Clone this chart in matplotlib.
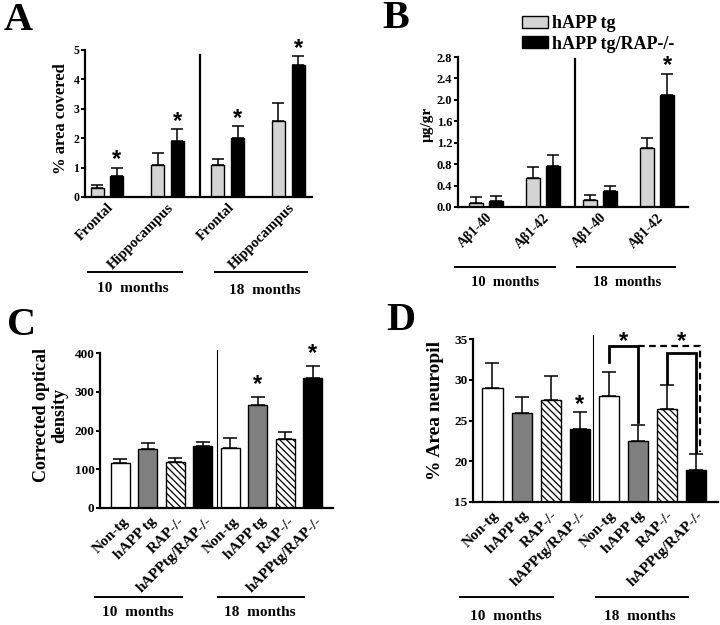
import numpy as np
import matplotlib
matplotlib.use("Agg")
import matplotlib.pyplot as plt
from matplotlib.patches import Patch
from matplotlib.lines import Line2D

plt.rcParams['font.family'] = ['Liberation Serif', 'DejaVu Serif']
plt.rcParams['font.weight'] = 'bold'
plt.rcParams['hatch.color'] = '#333333'
plt.rcParams['hatch.linewidth'] = 0.9

# ---------------- data ----------------
# Panel A: % area covered
a_groups = ["Frontal", "Hippocampus", "Frontal", "Hippocampus"]
a_happ = [0.3, 1.1, 1.1, 2.6]
a_happ_err = [0.1, 0.4, 0.2, 0.6]
a_rap = [0.7, 1.9, 2.0, 4.5]
a_rap_err = [0.3, 0.4, 0.4, 0.3]
a_star = [True, True, True, True]

# Panel B: ug/gr
b_groups = ["Aβ1-40", "Aβ1-42", "Aβ1-40", "Aβ1-42"]
b_happ = [0.08, 0.54, 0.13, 1.10]
b_happ_err = [0.10, 0.20, 0.09, 0.19]
b_rap = [0.11, 0.77, 0.29, 2.09]
b_rap_err = [0.09, 0.20, 0.10, 0.40]
b_star = [False, False, False, True]

# Panel C: corrected optical density
c_labels = ["Non-tg", "hAPP tg", "RAP-/-", "hAPPtg/RAP-/-"] * 2
c_vals = [115, 153, 119, 160, 155, 267, 177, 335]
c_err = [12, 16, 10, 11, 25, 20, 19, 32]
c_star = [False, False, False, False, False, True, False, True]

# Panel D: % area neuropil
d_labels = ["Non-tg", "hAPP tg", "RAP-/-", "hAPPtg/RAP-/-"] * 2
d_vals = [29.0, 25.9, 27.5, 24.0, 28.0, 22.5, 26.4, 18.9]
d_err = [3.0, 2.0, 3.0, 2.0, 3.0, 2.0, 3.0, 2.0]
d_star = [False, False, False, True, False, False, False, False]

legend_labels = ["hAPP tg", "hAPP tg/RAP-/-"]
month_labels = ["10  months", "18  months"]

# ---------------- style ----------------
W, H = 720, 625
LIGHT = '#d4d4d4'
MID = '#808080'
SERIF = 'Liberation Serif'

fig = plt.figure(figsize=(W / 100, H / 100), dpi=100)


def fx(px):
    return px / W


def fy(py):
    return 1 - py / H


def make_ax(l, t, r, b):
    return fig.add_axes([fx(l), fy(b), fx(r) - fx(l), fy(t) - fy(b)])


def style_ax(ax, tick_fs=8, xpad=3):
    for s in ['top', 'right']:
        ax.spines[s].set_visible(False)
    for s in ['left', 'bottom']:
        ax.spines[s].set_linewidth(1.6)
    ax.tick_params(axis='y', length=3, width=1.4, labelsize=tick_fs, pad=1)
    ax.tick_params(axis='x', length=0, pad=xpad)
    for t in ax.get_yticklabels():
        t.set_fontweight('bold')


def star(ax, x, y, gap_px=12):
    ax.annotate('*', xy=(x, y), xytext=(0, gap_px * 0.72 - 7), textcoords='offset points',
                ha='center', va='baseline', fontsize=17, fontweight='bold',
                family='Liberation Sans', annotation_clip=False)


def months(lines, texts, fs=11):
    for (x0, x1, y) in lines:
        fig.add_artist(Line2D([fx(x0), fx(x1)], [fy(y), fy(y)], color='black', lw=1.4))
    for lab, (xc, yc) in zip(month_labels, texts):
        fig.text(fx(xc), fy(yc), lab, ha='center', va='center', fontsize=fs, fontweight='bold')


def panel_letter(letter, x, y):
    fig.text(fx(x), fy(y), letter, ha='center', va='center', fontsize=29, fontweight='bold')


err_kw = dict(ecolor='black', elinewidth=1.1, capthick=1.1)

# ---------------- Panel A ----------------
axA = make_ax(85, 50, 312, 197)
gA = np.arange(len(a_groups))
off, wA = 0.165, 0.215
zA = np.zeros(len(gA))
axA.bar(gA - off, a_happ, wA, color=LIGHT, edgecolor='black', lw=1.0,
        yerr=[zA, a_happ_err], capsize=4.5, error_kw=err_kw)
axA.bar(gA + off, a_rap, wA, color='black', edgecolor='black', lw=1.0,
        yerr=[zA, a_rap_err], capsize=4.5, error_kw=err_kw)
for i, s in enumerate(a_star):
    if s:
        star(axA, gA[i] + off, a_rap[i] + a_rap_err[i], 11)
axA.set_xlim(-0.364, 3.39)
axA.set_ylim(0, 5)
axA.set_yticks(range(0, 6))
axA.set_xticks(gA)
axA.set_xticklabels(a_groups, rotation=45, ha='right', va='top', rotation_mode='anchor',
                    fontsize=10.5, fontweight='bold')
axA.axvline(1.53, ymin=0, ymax=0.965, color='black', lw=1.6)
axA.set_ylabel('% area covered', fontsize=12, fontweight='bold')
style_ax(axA, 8.5)
axA.yaxis.set_label_coords(-0.07, 0.53)
months([(88, 182, 272), (215, 307, 272)], [(133, 289), (265, 291)])
panel_letter('A', 18, 20)

# ---------------- Panel B ----------------
axB = make_ax(458, 57, 688, 207)
gB = np.arange(len(b_groups))
offB, wB = 0.175, 0.24
axB.bar(gB - offB, b_happ, wB, color=LIGHT, edgecolor='black', lw=1.0,
        yerr=[zA, b_happ_err], capsize=4.5, error_kw=err_kw)
axB.bar(gB + offB, b_rap, wB, color='black', edgecolor='black', lw=1.0,
        yerr=[zA, b_rap_err], capsize=4.5, error_kw=err_kw)
for i, s in enumerate(b_star):
    if s:
        star(axB, gB[i] + offB, b_rap[i] + b_rap_err[i], 11)
axB.set_xlim(-0.49, 3.54)
axB.set_ylim(0, 2.8)
axB.set_yticks(np.arange(0, 2.81, 0.4))
axB.set_yticklabels([f"{v:.1f}" for v in np.arange(0, 2.81, 0.4)])
axB.set_xticks(gB)
axB.set_xticklabels(b_groups, rotation=45, ha='right', va='top', rotation_mode='anchor',
                    fontsize=10, fontweight='bold')
axB.axvline(1.56, ymin=0, ymax=0.985, color='black', lw=1.6)
axB.set_ylabel('µg/gr', fontsize=11, fontweight='bold')
style_ax(axB, 9)
axB.yaxis.set_label_coords(-0.105, 0.55)
axB.legend(handles=[Patch(facecolor=LIGHT, edgecolor='black', lw=1.0),
                    Patch(facecolor='black', edgecolor='black', lw=1.0)],
           labels=legend_labels, loc='upper left', bbox_to_anchor=(fx(522), fy(15)),
           bbox_transform=fig.transFigure, frameon=False,
           prop={'family': SERIF, 'weight': 'bold', 'size': 13},
           handlelength=1.45, handleheight=0.65, handletextpad=0.2, labelspacing=0.2,
           borderaxespad=0, borderpad=0)
months([(455, 555, 267), (577, 675, 267)], [(505, 282), (627, 282)], fs=10.5)
panel_letter('B', 396, 19)

# ---------------- Panel C ----------------
patterns_face = ['white', MID, 'white', 'black'] * 2
patterns_hatch = ['', '', '\\\\\\\\\\', ''] * 2


def four_bars(ax, vals, errs, width):
    x = np.arange(len(vals))
    for i in range(len(vals)):
        ax.bar(x[i], vals[i], width, color=patterns_face[i], edgecolor='black',
               hatch=patterns_hatch[i], lw=1.0,
               yerr=[[0], [errs[i]]], capsize=5, error_kw=err_kw)
    return x


axC = make_ax(100, 353, 333, 508)
xC = four_bars(axC, c_vals, c_err, 0.69)
for i, s in enumerate(c_star):
    if s:
        star(axC, xC[i], c_vals[i] + c_err[i], 15)
axC.set_xlim(-0.745, 7.73)
axC.set_ylim(0, 400)
axC.set_yticks([0, 100, 200, 300, 400])
axC.set_xticks(xC + 0.08)
axC.set_xticklabels(c_labels, rotation=45, ha='right', va='top', rotation_mode='anchor',
                    fontsize=11, fontweight='bold')
axC.axvline(3.51, ymin=0, ymax=1.02, color='black', lw=0.8, clip_on=False)
axC.set_ylabel('Corrected optical\ndensity', fontsize=13, fontweight='bold',
               linespacing=1.1)
style_ax(axC, 9.5, xpad=5)
axC.yaxis.set_label_coords(-0.135, 0.6)
months([(95, 182, 597), (218, 304, 597)], [(138, 612), (260, 612)])
panel_letter('C', 22, 326)

# ---------------- Panel D ----------------
axD = make_ax(473, 339, 718, 502)
xD = four_bars(axD, d_vals, d_err, 0.69)
for i, s in enumerate(d_star):
    if s:
        star(axD, xD[i], d_vals[i] + d_err[i], 11)
axD.set_xlim(-0.67, 7.75)
axD.set_ylim(15, 35)
axD.set_yticks([15, 20, 25, 30, 35])
axD.set_xticks(xD)
axD.set_xticklabels(d_labels, rotation=45, ha='right', va='top', rotation_mode='anchor',
                    fontsize=11, fontweight='bold')
axD.axvline(3.45, ymin=0, ymax=1.025, color='black', lw=0.8, clip_on=False)
axD.set_ylabel('% Area neuropil', fontsize=14, fontweight='bold')
style_ax(axD, 9.5, xpad=5)
axD.yaxis.set_label_coords(-0.12, 0.56)

# significance brackets (18 months)
tops = np.array(d_vals) + np.array(d_err)
lvl1, lvl2 = 34.1, 33.3
axD.plot([xD[4], xD[4], xD[5], xD[5]], [tops[4] + 1.2, lvl1, lvl1, tops[5] + 0.3],
         color='black', lw=2.0, clip_on=False, solid_joinstyle='miter')
axD.plot([xD[6], xD[6], xD[7], xD[7]], [tops[6] + 0.2, lvl2, lvl2, tops[7] + 0.2],
         color='black', lw=2.0, clip_on=False, solid_joinstyle='miter')
axD.plot([xD[5], xD[7] + 0.12, xD[7] + 0.12], [lvl1, lvl1, tops[7] + 0.2],
         color='black', lw=1.6, ls=(0, (3, 2)), clip_on=False)
star(axD, (xD[4] + xD[5]) / 2, lvl1, 8)
star(axD, (xD[6] + xD[7]) / 2, lvl1, 8)
months([(460, 553, 597), (596, 688, 597)], [(506, 617), (640, 617)])
panel_letter('D', 401, 321)

fig.savefig('out.png', dpi=100)
